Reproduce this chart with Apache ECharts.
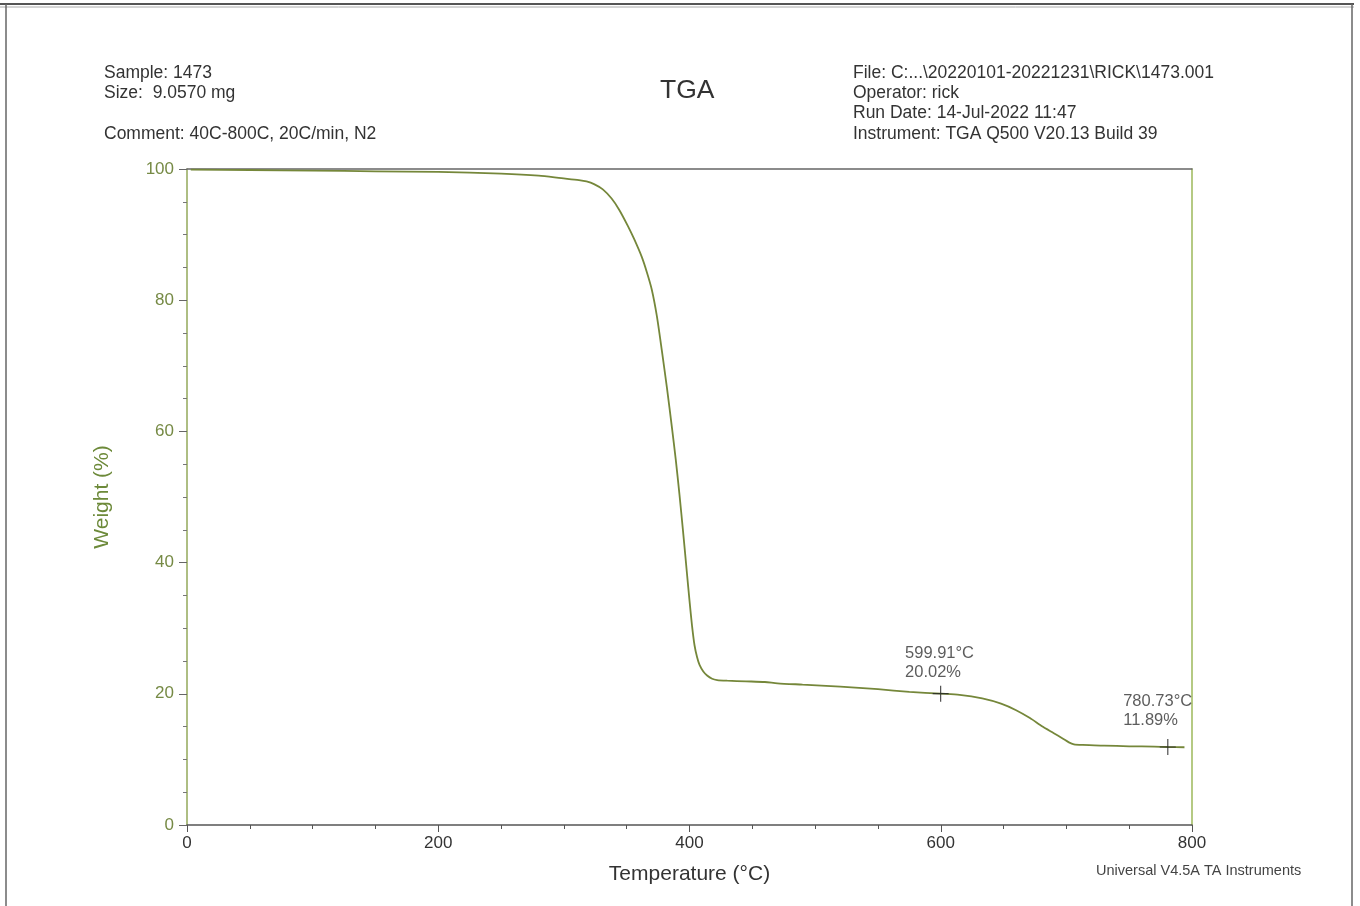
<!DOCTYPE html>
<html>
<head>
<meta charset="utf-8">
<script src="https://cdn.jsdelivr.net/npm/echarts@6/dist/echarts.min.js"></script>
<style>
html,body{margin:0;padding:0;background:#fff;}
#c{width:1360px;height:906px;}
</style>
</head>
<body>
<div id="c"></div>
<script>
const temperature = [3, 50, 100, 150, 200, 250, 280, 298, 312, 318, 324, 331, 338, 344, 351, 356, 362, 366, 370, 374, 378, 382, 386, 389, 392, 395, 398, 400, 402, 404, 406, 408, 411, 414, 418, 422, 430, 445, 460, 470, 490, 520, 550, 575, 600, 615, 633, 648, 660, 671, 681, 690, 697, 702, 706, 713, 730, 750, 770, 781, 794];
const weight = [99.9, 99.85, 99.75, 99.65, 99.55, 99.3, 99.0, 98.6, 98.3, 98.1, 97.7, 96.9, 95.5, 93.8, 91.3, 89.3, 86.6, 84.3, 81.6, 77.6, 72.3, 66.7, 60.6, 55.8, 50.4, 44.5, 38.3, 34.2, 30.4, 27.4, 25.6, 24.4, 23.4, 22.8, 22.3, 22.1, 22.0, 21.9, 21.8, 21.6, 21.4, 21.1, 20.7, 20.3, 20.02, 19.85, 19.3, 18.5, 17.5, 16.3, 15.0, 14.0, 13.2, 12.6, 12.3, 12.2, 12.1, 12.0, 11.95, 11.89, 11.85];
const markTemps = [599.91, 780.73];
const markWeights = [20.02, 11.89];
const markLabels = ['599.91°C\n20.02%', '780.73°C\n11.89%'];
const headerLeft = ['Sample: 1473', 'Size:  9.0570 mg', '', 'Comment: 40C-800C, 20C/min, N2'];
const headerRight = ['File: C:...\\20220101-20221231\\RICK\\1473.001', 'Operator: rick', 'Run Date: 14-Jul-2022 11:47', 'Instrument: TGA Q500 V20.13 Build 39'];
const chartTitle = 'TGA';
const footer = 'Universal V4.5A TA Instruments';
const xName = 'Temperature (°C)';
const yName = 'Weight (%)';

const FONT = '"Liberation Sans", Arial, sans-serif';
const curveColor = '#75873a';
const chart = echarts.init(document.getElementById('c'), null, {renderer: 'canvas'});

const lineData = temperature.map((t, i) => [t, weight[i]]);
const markPos = [[-27, -41], [-36, -46]];
const markData = markTemps.map((t, i) => ({value: [t, markWeights[i]], lab: markLabels[i], label: {position: markPos[i]}}));

const headerGraphics = [];
headerLeft.forEach((s, i) => {
  if (!s) return;
  headerGraphics.push({type: 'text', left: 104, top: 64 + i * 20.3, style: {text: s, font: '17.5px ' + FONT, fill: '#333'}});
});
headerRight.forEach((s, i) => {
  headerGraphics.push({type: 'text', left: 853, top: 64 + i * 20.3, style: {text: s, font: '17.5px ' + FONT, fill: '#333'}});
});

const option = {
  backgroundColor: '#fff',
  animation: false,
  grid: {left: 187, right: 168, top: 169, bottom: 81, containLabel: false},
  xAxis: [{
    type: 'value', min: 0, max: 800, interval: 200,
    name: xName, nameLocation: 'middle', nameGap: 39,
    nameTextStyle: {fontFamily: FONT, fontSize: 21, color: '#333'},
    axisLine: {show: true, lineStyle: {color: '#555', width: 1.5}},
    axisTick: {show: true, inside: false, length: 7, lineStyle: {color: '#555'}},
    minorTick: {show: true, splitNumber: 4, length: 4, lineStyle: {color: '#555'}},
    axisLabel: {fontFamily: FONT, fontSize: 17, color: '#333', margin: 10},
    splitLine: {show: false}
  }, {
    type: 'value', min: 0, max: 800, position: 'top',
    axisLine: {show: true, onZero: false, lineStyle: {color: '#666', width: 1.5}},
    axisTick: {show: false}, axisLabel: {show: false}, splitLine: {show: false}
  }],
  yAxis: [{
    type: 'value', min: 0, max: 100, interval: 20,
    name: yName, nameLocation: 'middle', nameGap: 74, nameRotate: 90,
    nameTextStyle: {fontFamily: FONT, fontSize: 21, color: '#6d8a3a'},
    axisLine: {show: true, lineStyle: {color: '#93a95a', width: 1.5}},
    axisTick: {show: true, inside: false, length: 8, lineStyle: {color: '#666'}},
    minorTick: {show: true, splitNumber: 4, length: 4, lineStyle: {color: '#777'}},
    axisLabel: {fontFamily: FONT, fontSize: 17, color: '#768a45', margin: 13},
    splitLine: {show: false}
  }, {
    type: 'value', min: 0, max: 100, position: 'right',
    axisLine: {show: true, onZero: false, lineStyle: {color: '#9db85a', width: 1.5}},
    axisTick: {show: false}, axisLabel: {show: false}, splitLine: {show: false}
  }],
  series: [{
    type: 'line', data: lineData, showSymbol: false, smooth: 0.25,
    lineStyle: {color: curveColor, width: 1.8}, z: 3
  }, {
    type: 'scatter', data: markData, symbol: 'path://M0,8L16,8M8,0L8,16', symbolSize: 16,
    itemStyle: {color: 'rgba(0,0,0,0)', borderColor: '#222', borderWidth: 1.2},
    label: {
      show: true, formatter: p => p.data.lab,
      fontFamily: FONT, fontSize: 16.5, color: '#333', lineHeight: 19, align: 'left', verticalAlign: 'top'
    }, z: 4
  }],
  graphic: [
    {type: 'text', left: 660, top: 77, style: {text: chartTitle, font: '26.5px ' + FONT, fill: '#333'}},
    {type: 'text', left: 1096, top: 863, style: {text: footer, font: '14.5px ' + FONT, fill: '#444'}},
    {type: 'line', shape: {x1: 0, y1: 4, x2: 1354, y2: 4}, style: {stroke: '#555', lineWidth: 2}},
    {type: 'line', shape: {x1: 0, y1: 7, x2: 1354, y2: 7}, style: {stroke: '#aaa', lineWidth: 1}},
    {type: 'line', shape: {x1: 6, y1: 4, x2: 6, y2: 906}, style: {stroke: '#666', lineWidth: 1.5}},
    {type: 'line', shape: {x1: 1352, y1: 4, x2: 1352, y2: 906}, style: {stroke: '#666', lineWidth: 1.5}}
  ].concat(headerGraphics)
};
chart.setOption(option);
</script>
</body>
</html>
